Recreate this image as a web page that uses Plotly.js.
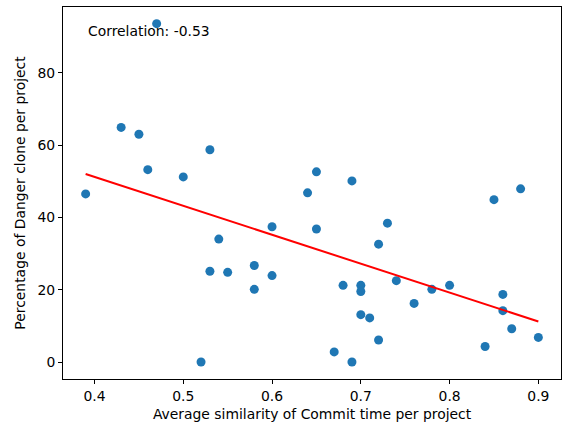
<!DOCTYPE html>
<html>
<head>
<meta charset="utf-8">
<script src="https://cdn.plot.ly/plotly-3.0.1.min.js"></script>
<style>html,body{margin:0;padding:0;background:#fff;}#chart{width:564px;height:425px;}</style>
</head>
<body>
<div id="chart"></div>
<script>
const similarity = [0.39, 0.43, 0.45, 0.46, 0.47, 0.50, 0.52, 0.53, 0.53, 0.54,
                    0.55, 0.58, 0.58, 0.60, 0.60, 0.64, 0.65, 0.65, 0.67, 0.68,
                    0.69, 0.69, 0.70, 0.70, 0.70, 0.71, 0.72, 0.72, 0.73, 0.74,
                    0.76, 0.78, 0.80, 0.84, 0.85, 0.86, 0.86, 0.87, 0.88, 0.90];
const dangerPct = [46.5, 64.9, 63.0, 53.2, 93.6, 51.2, 0.0, 58.7, 25.1, 34.0,
                   24.8, 26.7, 20.1, 37.4, 23.9, 46.8, 52.6, 36.8, 2.8, 21.2,
                   50.1, 0.0, 21.2, 19.5, 13.1, 12.2, 32.6, 6.1, 38.4, 22.5,
                   16.2, 20.1, 21.2, 4.3, 44.9, 18.7, 14.2, 9.2, 47.9, 6.8];
const fitX = [0.39, 0.90];
const fitY = [52.0, 11.2];
const xTicks = [0.4, 0.5, 0.6, 0.7, 0.8, 0.9];
const yTicks = [0, 20, 40, 60, 80];
const corrLabel = "Correlation: -0.53";

const font = {family: "DejaVu Sans", size: 13.9, color: "#000"};
const tickFont = {family: "DejaVu Sans", size: 13.9, color: "#000"};
const traces = [
  {x: similarity, y: dangerPct, type: "scatter", mode: "markers",
   marker: {color: "#1f77b4", size: 9}, hoverinfo: "skip"},
  {x: fitX, y: fitY, type: "scatter", mode: "lines",
   line: {color: "red", width: 2}, hoverinfo: "skip"}
];
const axisCommon = {showline: true, mirror: true, linecolor: "#000", linewidth: 1,
  ticks: "outside", ticklen: 4, tickwidth: 1, tickcolor: "#000",
  showgrid: false, zeroline: false, tickfont: tickFont};
const layout = {
  width: 564, height: 425,
  margin: {l: 63, r: 3, t: 7, b: 46},
  paper_bgcolor: "#fff", plot_bgcolor: "#fff",
  showlegend: false, font: font,
  xaxis: Object.assign({}, axisCommon, {range: [0.3645, 0.9255], tickvals: xTicks,
    ticktext: xTicks.map(v => v.toFixed(1)),
    title: {text: "Average similarity of Commit time per project", font: font, standoff: 6}}),
  yaxis: Object.assign({}, axisCommon, {range: [-4.7, 98.2], tickvals: yTicks,
    title: {text: "Percentage of Danger clone per project", font: font, standoff: 8}}),
  annotations: [{xref: "paper", yref: "paper", x: 0.046, y: 0.962, xanchor: "left", yanchor: "top",
    text: corrLabel, showarrow: false, font: font}]
};
Plotly.newPlot("chart", traces, layout, {staticPlot: true, displayModeBar: false});
</script>
</body>
</html>
